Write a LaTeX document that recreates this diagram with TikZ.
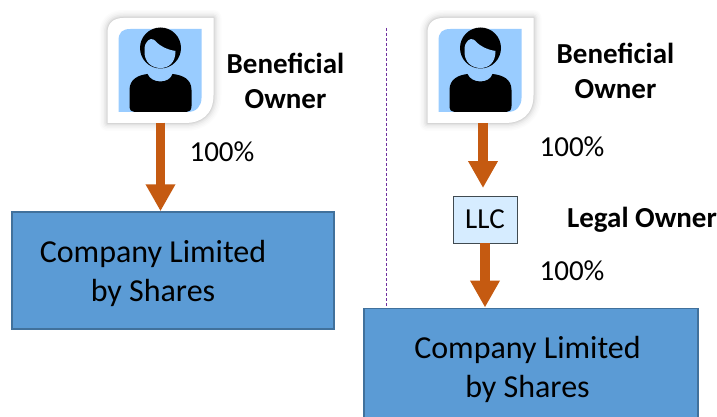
\documentclass[tikz,border=0pt]{standalone}
\usepackage{fontspec}
\setmainfont{Carlito}
\usetikzlibrary{arrows.meta}
\definecolor{boxblue}{HTML}{5B9BD5}
\definecolor{boxedge}{HTML}{41719C}
\definecolor{arrowor}{HTML}{C55A11}
\definecolor{skyb}{HTML}{99CCFF}
\definecolor{llcfill}{HTML}{D6ECFF}
\definecolor{llcedge}{HTML}{404A50}
\definecolor{purp}{HTML}{7030A0}
\tikzset{
  company/.style={draw=boxedge,line width=1.5pt,fill=boxblue,inner sep=0pt,font=\fontsize{32}{39}\selectfont,text=black,align=center},
  owntext/.style={font=\bfseries\fontsize{29}{34.5}\selectfont,align=center,inner sep=0pt},
  pct/.style={font=\fontsize{29}{30}\selectfont,inner sep=0pt},
  flow/.style={arrowor,line width=9.5pt,-{Triangle[width=28pt,length=27pt]}},
  anchorbox/.style={minimum width=105pt,minimum height=105pt,inner sep=0pt},
  person/.pic={
    \foreach \w/\o in {16/.012,13/.015,10/.02,7/.03,4/.04,2/.05}{
      \draw[line width=\w pt,black,opacity=\o,line join=round]
        (-53,-37) .. controls (-53,-47) and (-47,-52) .. (-37,-52) -- (53,-52) -- (53,25) .. controls (53,45) and (40,53) .. (25,53) -- (-53,53) -- cycle;
    }
    \fill[white] (-53,-37) .. controls (-53,-47) and (-47,-52) .. (-37,-52) -- (53,-52) -- (53,25) .. controls (53,45) and (40,53) .. (25,53) -- (-53,53) -- cycle;
    \fill[skyb] (-42,-29) .. controls (-42,-38) and (-38,-41) .. (-30,-41) -- (41,-41) -- (41,28) .. controls (41,36) and (36,42) .. (27,42) -- (-42,42) -- cycle;
    \fill[black] (0,-22) circle (20.5);
    \fill[skyb] (-15,-26) .. controls (-12,-32) and (-8,-32) .. (-5,-29)
       .. controls (0,-23) and (8,-20) .. (15,-19)
       .. controls (15,-7) and (8,-2) .. (0,-2) .. controls (-9,-2) and (-16,-8) .. (-16,-18) .. controls (-16,-22) and (-16,-24) .. (-15,-26) -- cycle;
    \fill[black] (-31,36) -- (-31,20)
      .. controls (-31,9) and (-22,5) .. (-13,4)
      .. controls (-9,14) and (9,14) .. (12,4)
      .. controls (22,5) and (31,9) .. (31,20)
      -- (31,36) .. controls (31,40) and (29,42) .. (26,42) -- (-26,42)
      .. controls (-29,42) and (-31,40) .. (-31,36) -- cycle;
  }
}
\begin{document}
\begin{tikzpicture}[x=1pt,y=-1pt]
\useasboundingbox (0,0) rectangle (717,417);
\coordinate (dashtop) at (386.5,28);
\coordinate (dashbot) at (386.5,307);
\draw[purp,line width=.7pt,dashed,dash pattern=on 3pt off 2pt] (dashtop) -- (dashbot);

\pic at (160.5,70) {person};
\pic at (480.5,70) {person};
\node[anchorbox] (ownerA) at (160.5,70) {};
\node[anchorbox] (ownerB) at (480.5,70) {};

\node[company,minimum width=322pt,minimum height=117pt] (coA) at (173,270.5) {};
\node[company,anchor=north west,minimum width=334pt,minimum height=125pt] (coB) at (363,307.5) {};
\node[company,draw=none,fill=none] at (153,273) {Company Limited\\by Shares};
\node[company,draw=none,fill=none] at (527.5,369) {Company Limited\\by Shares};

\node[draw=llcedge,line width=.9pt,fill=llcfill,minimum width=64pt,minimum height=47pt,inner sep=0pt,font=\fontsize{29}{30}\selectfont] (llc) at (485,219.5) {LLC};

\draw[flow] (ownerA.south) -- (ownerA.south |- coA.north);
\draw[flow] (483,123) -- (483,188);
\draw[flow] (llc.south) -- (llc.south |- coB.north);

\node[owntext] at (285.5,81) {Beneficial\\Owner};
\node[owntext] at (615.5,71) {Beneficial\\Owner};
\node[owntext] at (642,220) {Legal Owner};
\node[pct] at (222,152) {100\%};
\node[pct] at (572,147) {100\%};
\node[pct] at (572,271) {100\%};
\end{tikzpicture}
\end{document}
